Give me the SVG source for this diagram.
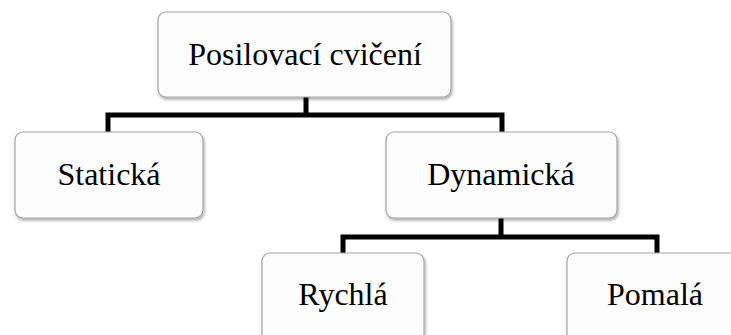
<svg xmlns="http://www.w3.org/2000/svg" width="731" height="335" viewBox="0 0 731 335">
<defs>
<filter id="sh" x="-10%" y="-10%" width="130%" height="130%">
<feGaussianBlur in="SourceAlpha" stdDeviation="1.5"/>
<feOffset dx="1" dy="2" result="b"/>
<feComponentTransfer><feFuncA type="linear" slope="0.35"/></feComponentTransfer>
<feMerge><feMergeNode/><feMergeNode in="SourceGraphic"/></feMerge>
</filter>
</defs>
<style>
.box{fill:#fdfdfd;stroke:#a6a6a6;stroke-width:1.2;filter:url(#sh)}
.c{fill:none;stroke:#000;stroke-width:5;stroke-linejoin:miter}
</style>
<rect width="731" height="335" fill="#fff"/>
<g id="connectors">
<path class="c" d="M306 97V115M108 133V115H502V132"/>
<path class="c" d="M501 218V237M343 253V237H657V253"/>
</g>
<g font-family="Liberation Serif, Times New Roman, Times, serif" font-size="32" text-anchor="middle" fill="#000">
<g id="n-posilovaci">
<rect class="box" x="158" y="12" width="293" height="85" rx="8"/>
<text x="305" y="65">Posilovací cvičení</text>
</g>
<g id="n-staticka">
<rect class="box" x="15" y="132" width="188" height="86" rx="8"/>
<text x="109" y="185">Statická</text>
</g>
<g id="n-dynamicka">
<rect class="box" x="386" y="132" width="231" height="86" rx="8"/>
<text x="501" y="185">Dynamická</text>
</g>
<g id="n-rychla">
<rect class="box" x="262" y="253" width="162" height="90" rx="8"/>
<text x="343" y="305">Rychlá</text>
</g>
<g id="n-pomala">
<rect class="box" x="567" y="253" width="180" height="90" rx="8"/>
<text x="655" y="305">Pomalá</text>
</g>
</g>
</svg>
